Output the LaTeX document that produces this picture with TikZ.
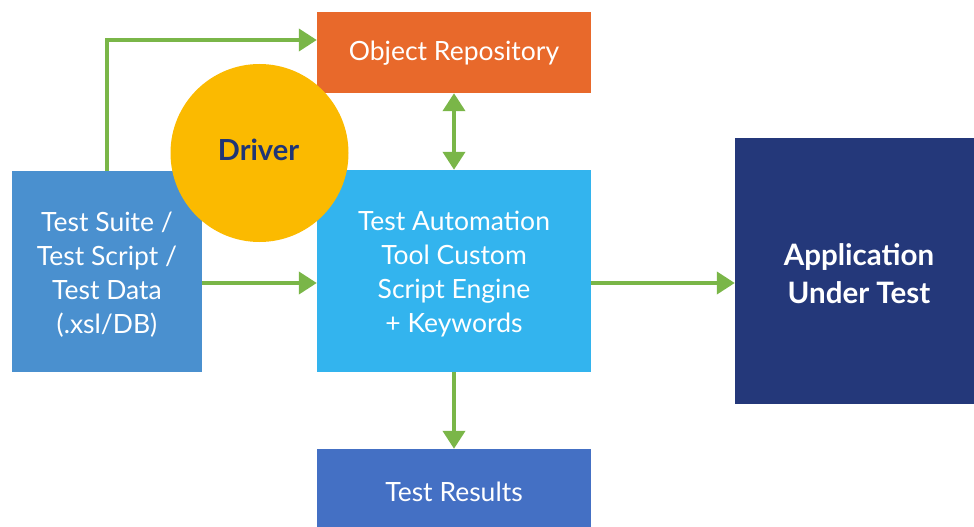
\documentclass[tikz,border=0pt]{standalone}
\usepackage{fontspec}
\setmainfont{Lato}
\usetikzlibrary{arrows.meta,positioning}

\definecolor{suiteblue}{HTML}{4A90CF}
\definecolor{repoorange}{HTML}{E8692B}
\definecolor{driveryellow}{HTML}{FBBA00}
\definecolor{enginecyan}{HTML}{33B4EE}
\definecolor{resultblue}{HTML}{4470C4}
\definecolor{appnavy}{HTML}{24387A}
\definecolor{flowgreen}{HTML}{7AB648}
\definecolor{drivertext}{HTML}{1F3576}

\tikzset{
  block/.style={rectangle, inner sep=0pt},
  caption/.style={inner sep=0pt, text=white, align=center,
    font=\fontsize{26.5}{34}\selectfont},
  flow/.style={draw=flowgreen, line width=4pt,
    -{Triangle[length=18pt,width=22pt]}},
  twoway/.style={draw=flowgreen, line width=4pt,
    {Triangle[length=18pt,width=22pt]}-{Triangle[length=18pt,width=22pt]}},
}

\begin{document}
\begin{tikzpicture}[x=1pt,y=-1pt]
  \useasboundingbox (0,0) rectangle (974,527);

  % coloured boxes
  \node[block, fill=suiteblue, minimum width=190pt, minimum height=201pt]
    (suite) at (107,271.5) {};
  \node[block, fill=repoorange, minimum width=274pt, minimum height=81pt]
    (repo) at (454,52.5) {};
  \node[block, fill=enginecyan, minimum width=274pt, minimum height=202pt]
    (engine) at (454,271) {};
  \node[block, fill=resultblue, minimum width=274pt, minimum height=78pt]
    (results) at (454,488) {};
  \node[block, fill=appnavy, minimum width=239pt, minimum height=266pt]
    (app) at (854.5,271) {};

  % box captions, set slightly below the box centres
  \node[caption] (suitetext) at ([yshift=-3pt]suite.center)
    {Test Suite /\\Test Script /\\Test Data\\(.xsl/DB)};
  \node[caption] (repotext) at ([yshift=-1pt]repo.center) {Object Repository};
  \node[caption] (enginetext) at ([yshift=-3pt]engine.center)
    {Test Automation\\Tool Custom\\Script Engine\\+ Keywords};
  \node[caption] (resultstext) at ([yshift=-4pt]results.center) {Test Results};
  \node[caption, font=\fontsize{29.5}{38}\selectfont\bfseries]
    (apptext) at ([xshift=4.5pt,yshift=-3pt]app.center) {Application\\Under Test};

  % connectors
  \draw[flow] (suite.north) |- ([yshift=12.5pt]repo.west);
  \draw[flow] ([yshift=-11.5pt]suite.east) -- ([yshift=-11.5pt]suite.east -| engine.west);
  \draw[twoway] (repo.south) -- (engine.north);
  \draw[flow] ([yshift=-12pt]engine.east) -- ([yshift=-12pt]engine.east -| app.west);
  \draw[flow] (engine.south) -- (results.north);

  % driver badge
  \node[circle, fill=driveryellow, minimum size=178pt, inner sep=0pt]
    (driver) at (259.5,153) {};
  \node[text=drivertext, font=\fontsize{29}{32}\selectfont\bfseries, inner sep=0pt]
    (drivertxt) at ([xshift=-1pt,yshift=3pt]driver.center) {Driver};
\end{tikzpicture}
\end{document}
